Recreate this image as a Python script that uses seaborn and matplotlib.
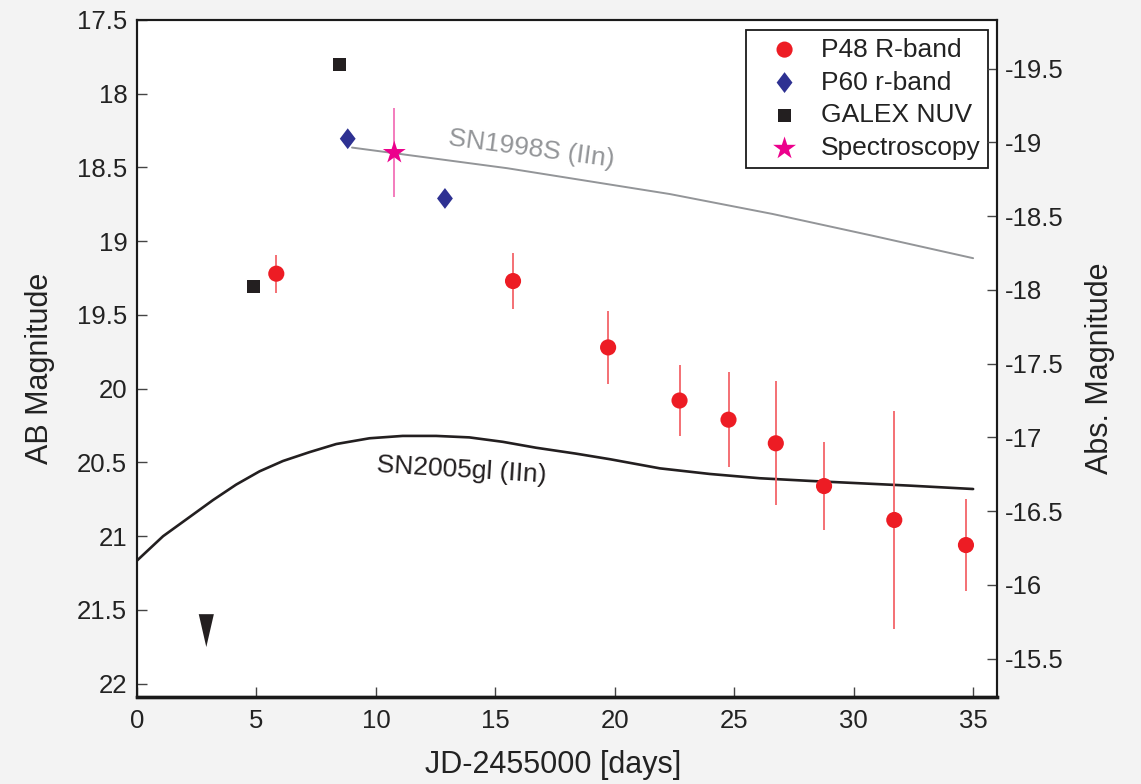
import matplotlib
matplotlib.use("Agg")
import matplotlib.pyplot as plt
import seaborn as sns
import numpy as np
from matplotlib.ticker import FixedLocator, FuncFormatter

# ---------------- data ----------------
p48_t = [5.83, 15.74, 19.72, 22.71, 24.76, 26.74, 28.76, 31.70, 34.70]
p48_mag = [19.22, 19.27, 19.72, 20.08, 20.21, 20.37, 20.66, 20.89, 21.06]
p48_err = [0.13, 0.19, 0.25, 0.24, 0.32, 0.42, 0.30, 0.74, 0.31]

p60_t = [8.82, 12.89]
p60_mag = [18.305, 18.71]

galex_t = [4.86, 8.49]
galex_mag = [19.31, 17.80]

spec_t = [10.77]
spec_mag = [18.40]
spec_err = [0.30]

limit_t = [2.90]
limit_mag = [21.64]

sn1998s_t = [9.0, 15.5, 22.3, 26.6, 30.8, 35.0]
sn1998s_mag = [18.365, 18.505, 18.68, 18.815, 18.963, 19.115]

sn2005gl_t = [0.0, 1.09, 2.20, 3.18, 4.15, 5.13, 6.11, 7.22, 8.34, 9.73,
              11.12, 12.52, 13.91, 15.31, 16.70, 18.37, 19.80, 21.89, 23.98,
              26.07, 28.16, 30.25, 32.34, 35.0]
sn2005gl_mag = [21.165, 21.00, 20.87, 20.755, 20.65, 20.56, 20.49, 20.43,
                20.375, 20.336, 20.32, 20.32, 20.33, 20.36, 20.40, 20.44,
                20.478, 20.54, 20.578, 20.607, 20.625, 20.641, 20.657, 20.68]

left_ticks = [17.5, 18, 18.5, 19, 19.5, 20, 20.5, 21, 21.5, 22]
right_ticks = [-19.5, -19, -18.5, -18, -17.5, -17, -16.5, -16, -15.5]
dist_mod = 37.33

# ---------------- style ----------------
sns.set_theme(style="white")
plt.rcParams["font.family"] = ["Liberation Sans", "DejaVu Sans"]
plt.rcParams["axes.unicode_minus"] = False

fig = plt.figure(figsize=(11.41, 7.84), dpi=100, facecolor="#f3f3f3")
ax = fig.add_axes([0.1201, 0.1110, 0.7537, 0.8635])
ax.set_facecolor("white")

red = "#ed1c24"
blue = "#2e3192"
black = "#231f20"
magenta = "#ec008c"
gray = "#939598"

# model curves
sns.lineplot(x=sn2005gl_t, y=sn2005gl_mag, ax=ax, color=black, lw=1.9,
             sort=False, estimator=None, zorder=2)
sns.lineplot(x=sn1998s_t, y=sn1998s_mag, ax=ax, color=gray, lw=1.4,
             sort=False, estimator=None, zorder=2)

# error bars
ax.errorbar(p48_t, p48_mag, yerr=p48_err, fmt="none", ecolor="#f36469",
            elinewidth=1.3, capsize=0, zorder=3)
ax.errorbar(spec_t, spec_mag, yerr=spec_err, fmt="none", ecolor="#f272b8",
            elinewidth=1.3, capsize=0, zorder=3)

diamond = [(0, 1), (0.76, 0), (0, -1), (-0.76, 0), (0, 1)]
tri = [(-0.23, 0.5), (0.23, 0.5), (0, -0.5), (-0.23, 0.5)]

sns.scatterplot(x=p48_t, y=p48_mag, ax=ax, marker="o", s=135, color=red,
                edgecolor="none", label="P48 R-band", zorder=4)
sns.scatterplot(x=p60_t, y=p60_mag, ax=ax, marker=diamond, s=225, color=blue,
                edgecolor="none", label="P60 r-band", zorder=4)
sns.scatterplot(x=galex_t, y=galex_mag, ax=ax, marker="s", s=88, color=black,
                edgecolor="none", label="GALEX NUV", zorder=4)
sns.scatterplot(x=spec_t, y=spec_mag, ax=ax, marker="*", s=300, color=magenta,
                edgecolor="none", label="Spectroscopy", zorder=5)
sns.scatterplot(x=limit_t, y=limit_mag, ax=ax, marker=tri, s=560, color=black,
                edgecolor="none", zorder=4)

ax.text(16.53, 18.373, "SN1998S (IIn)", rotation=-7.5, color=gray, fontsize=19,
        ha="center", va="center", rotation_mode="anchor")
ax.text(13.6, 20.55, "SN2005gl (IIn)", rotation=-3.5, color=black, fontsize=19,
        ha="center", va="center", rotation_mode="anchor")

ax.set_xlim(0, 36)
ax.set_ylim(22.09, 17.5)
ax.xaxis.set_major_locator(FixedLocator([0, 5, 10, 15, 20, 25, 30, 35]))
ax.yaxis.set_major_locator(FixedLocator(left_ticks))
ax.yaxis.set_major_formatter(FuncFormatter(lambda v, p: "%g" % v))
ax.xaxis.set_major_formatter(FuncFormatter(lambda v, p: "%g" % v))
ax.tick_params(axis="both", direction="in", length=7, width=1.0, color="#444444",
               labelsize=18.5, labelcolor="#222222")
ax.tick_params(axis="y", left=True, right=False, pad=7)
ax.tick_params(axis="x", bottom=True, top=False, pad=9)
ax.set_xlabel("")
ax.set_ylabel("")

ax2 = ax.twinx()
ax2.set_ylim(22.09 - dist_mod, 17.5 - dist_mod)
ax2.yaxis.set_major_locator(FixedLocator(right_ticks))
ax2.yaxis.set_major_formatter(FuncFormatter(lambda v, p: "%g" % v))
ax2.tick_params(axis="y", direction="in", length=7, width=1.0, color="#444444",
                labelsize=18.5, labelcolor="#222222", left=False, right=True, pad=6)
ax2.grid(False)
ax.grid(False)

for a in (ax, ax2):
    for s in a.spines.values():
        s.set_color("#1a1a1a")
        s.set_linewidth(1.5)
    a.spines["bottom"].set_linewidth(2.4)

handles, labels = ax.get_legend_handles_labels()
leg = ax.legend(handles, labels, loc="upper right", bbox_to_anchor=(0.9895, 0.985),
                borderaxespad=0, fontsize=19, frameon=True, fancybox=False,
                edgecolor="#1a1a1a", framealpha=1, labelspacing=0.34,
                borderpad=0.28, handletextpad=0.2, handlelength=2.35)
leg.get_frame().set_linewidth(1.3)
for t in leg.get_texts():
    t.set_color("#222222")

fig.text(553 / 1141, 1 - 765 / 784, "JD-2455000 [days]", fontsize=22,
         ha="center", va="center", color="#222222")
fig.text(40 / 1141, 1 - 368 / 784, "AB Magnitude", fontsize=22, rotation=90,
         ha="center", va="center", color="#222222")
fig.text(1100 / 1141, 1 - 368 / 784, "Abs. Magnitude", fontsize=22, rotation=90,
         ha="center", va="center", color="#222222")

fig.savefig("out.png", dpi=100, facecolor=fig.get_facecolor())
